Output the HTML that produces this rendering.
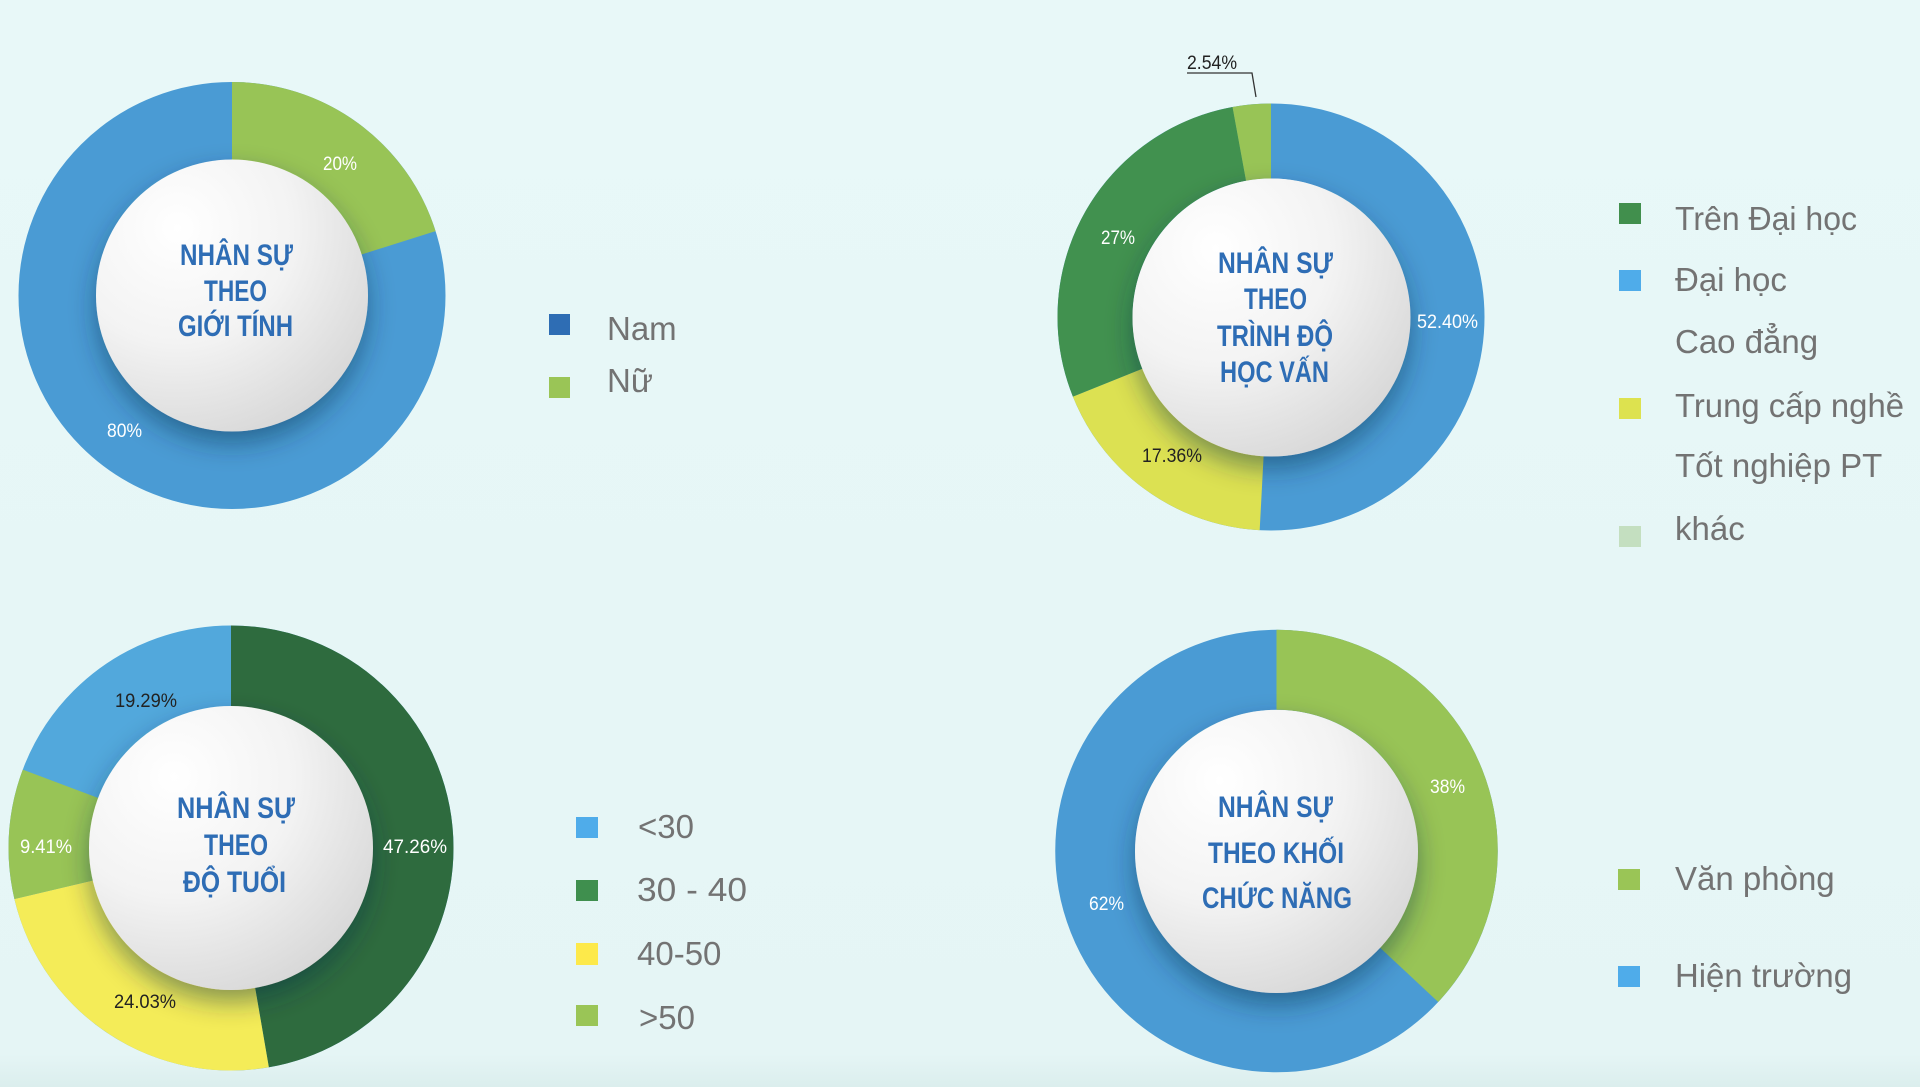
<!DOCTYPE html>
<html>
<head>
<meta charset="utf-8">
<style>
html,body{margin:0;padding:0;width:1920px;height:1087px;overflow:hidden;background:#e7f7f7;}
svg{display:block;}
.t{font-family:"Liberation Sans",sans-serif;font-weight:bold;fill:#2e6db5;font-size:30px;text-anchor:middle;}
.p{font-family:"Liberation Sans",sans-serif;font-size:19px;text-anchor:middle;}
.w{fill:#ffffff;}
.d{fill:#222222;}
.l{font-family:"Liberation Sans",sans-serif;font-size:33px;fill:#737373;}
</style>
</head>
<body>
<svg width="1920" height="1087" viewBox="0 0 1920 1087" xmlns="http://www.w3.org/2000/svg">
<defs>
<linearGradient id="bg" x1="0" y1="0" x2="0" y2="1">
<stop offset="0" stop-color="#e8f8f8"/>
<stop offset="0.97" stop-color="#e5f5f5"/>
<stop offset="1" stop-color="#dbeeed"/>
</linearGradient>
<radialGradient id="wg" cx="0.3" cy="0.25" r="0.85">
<stop offset="0" stop-color="#ffffff"/>
<stop offset="0.5" stop-color="#f3f3f3"/>
<stop offset="1" stop-color="#d6d6d6"/>
</radialGradient>
<filter id="sh" x="-30%" y="-30%" width="160%" height="170%">
<feDropShadow dx="0" dy="12" stdDeviation="13" flood-color="#0a2a45" flood-opacity="0.45"/>
</filter>
</defs>
<rect x="0" y="0" width="1920" height="1087" fill="url(#bg)"/>

<!-- Chart 1 -->
<g>
<circle cx="232" cy="295.5" r="174.5" fill="none" stroke="#4a9bd4" stroke-width="78"/>
<circle cx="232" cy="295.5" r="174.5" fill="none" stroke="#98c456" stroke-width="78" stroke-dasharray="220.5 3000" transform="rotate(-90 232 295.5)"/>
<circle cx="232" cy="295.5" r="136" fill="url(#wg)" filter="url(#sh)"/>
<text class="t" x="236.5" y="265" textLength="113" lengthAdjust="spacingAndGlyphs">NHÂN SỰ</text>
<text class="t" x="235.5" y="301" textLength="63" lengthAdjust="spacingAndGlyphs">THEO</text>
<text class="t" x="235.5" y="336" textLength="115" lengthAdjust="spacingAndGlyphs">GIỚI TÍNH</text>
<text class="p w" x="340" y="170" textLength="34" lengthAdjust="spacingAndGlyphs">20%</text>
<text class="p w" x="124.5" y="437" textLength="35" lengthAdjust="spacingAndGlyphs">80%</text>
</g>

<!-- Legend 1 -->
<rect x="549" y="314" width="21" height="21" fill="#2e6db4"/>
<text class="l" x="607" y="340">Nam</text>
<rect x="549" y="377" width="21" height="21" fill="#9ac556"/>
<text class="l" x="607" y="392">Nữ</text>

<!-- Chart 2 -->
<g>
<circle cx="1271" cy="317" r="176" fill="none" stroke="#4a9bd4" stroke-width="75"/>
<circle cx="1271" cy="317" r="176" fill="none" stroke="#dce152" stroke-width="75" stroke-dasharray="199.7 3000" stroke-dashoffset="-562.1" transform="rotate(-90 1271 317)"/>
<circle cx="1271" cy="317" r="176" fill="none" stroke="#41914f" stroke-width="75" stroke-dasharray="311.8 3000" stroke-dashoffset="-761.8" transform="rotate(-90 1271 317)"/>
<circle cx="1271" cy="317" r="176" fill="none" stroke="#98c456" stroke-width="75" stroke-dasharray="32.3 3000" stroke-dashoffset="-1073.5" transform="rotate(-90 1271 317)"/>
<circle cx="1271.5" cy="317.5" r="139" fill="url(#wg)" filter="url(#sh)"/>
<text class="t" x="1275.5" y="273" textLength="115" lengthAdjust="spacingAndGlyphs">NHÂN SỰ</text>
<text class="t" x="1275.5" y="309" textLength="63" lengthAdjust="spacingAndGlyphs">THEO</text>
<text class="t" x="1275" y="346" textLength="116" lengthAdjust="spacingAndGlyphs">TRÌNH ĐỘ</text>
<text class="t" x="1274.5" y="382" textLength="109" lengthAdjust="spacingAndGlyphs">HỌC VẤN</text>
<text class="p w" x="1447.5" y="328" textLength="61" lengthAdjust="spacingAndGlyphs">52.40%</text>
<text class="p w" x="1118" y="244" textLength="34" lengthAdjust="spacingAndGlyphs">27%</text>
<text class="p d" x="1172" y="462" textLength="60" lengthAdjust="spacingAndGlyphs">17.36%</text>
<text class="p d" x="1212" y="69" textLength="50" lengthAdjust="spacingAndGlyphs">2.54%</text>
<polyline points="1187,73 1252,73 1256,97" fill="none" stroke="#333" stroke-width="1.3"/>
</g>

<!-- Legend 2 -->
<rect x="1619" y="203" width="22" height="21" fill="#418f4d"/>
<text class="l" x="1675" y="230" textLength="182" lengthAdjust="spacingAndGlyphs">Trên Đại học</text>
<rect x="1619" y="270" width="22" height="21" fill="#4facea"/>
<text class="l" x="1675" y="291">Đại học</text>
<text class="l" x="1675" y="353">Cao đẳng</text>
<rect x="1619" y="398" width="22" height="21" fill="#dde24f"/>
<text class="l" x="1675" y="417" textLength="229" lengthAdjust="spacingAndGlyphs">Trung cấp nghề</text>
<text class="l" x="1675" y="477">Tốt nghiệp PT</text>
<rect x="1619" y="526" width="22" height="21" fill="#c4dfc0"/>
<text class="l" x="1675" y="540">khác</text>

<!-- Chart 3 -->
<g>
<circle cx="231" cy="848" r="182" fill="none" stroke="#52a8dc" stroke-width="81"/>
<circle cx="231" cy="848" r="182" fill="none" stroke="#2e6b3e" stroke-width="81" stroke-dasharray="540.4 3000" transform="rotate(-90 231 848)"/>
<circle cx="231" cy="848" r="182" fill="none" stroke="#f4ec58" stroke-width="81" stroke-dasharray="274.8 3000" stroke-dashoffset="-540.4" transform="rotate(-90 231 848)"/>
<circle cx="231" cy="848" r="182" fill="none" stroke="#98c456" stroke-width="81" stroke-dasharray="107.6 3000" stroke-dashoffset="-815.2" transform="rotate(-90 231 848)"/>
<circle cx="231" cy="848" r="142" fill="url(#wg)" filter="url(#sh)"/>
<text class="t" x="236" y="818" textLength="118" lengthAdjust="spacingAndGlyphs">NHÂN SỰ</text>
<text class="t" x="236" y="855" textLength="64" lengthAdjust="spacingAndGlyphs">THEO</text>
<text class="t" x="234.5" y="892" textLength="103" lengthAdjust="spacingAndGlyphs">ĐỘ TUỔI</text>
<text class="p d" x="146" y="707" textLength="62" lengthAdjust="spacingAndGlyphs">19.29%</text>
<text class="p w" x="46" y="853" textLength="52" lengthAdjust="spacingAndGlyphs">9.41%</text>
<text class="p w" x="415" y="853" textLength="64" lengthAdjust="spacingAndGlyphs">47.26%</text>
<text class="p d" x="145" y="1008" textLength="62" lengthAdjust="spacingAndGlyphs">24.03%</text>
</g>

<!-- Legend 3 -->
<rect x="576" y="817" width="22" height="21" fill="#4facea"/>
<text class="l" x="638" y="838">&lt;30</text>
<rect x="576" y="880" width="22" height="21" fill="#3f8f4e"/>
<text class="l" x="637" y="901" textLength="110" lengthAdjust="spacingAndGlyphs">30 - 40</text>
<rect x="576" y="943" width="22" height="22" fill="#fde94a"/>
<text class="l" x="637" y="965">40-50</text>
<rect x="576" y="1005" width="22" height="21" fill="#9ac556"/>
<text class="l" x="639" y="1029">&gt;50</text>

<!-- Chart 4 -->
<g>
<circle cx="1276.5" cy="851" r="181.25" fill="none" stroke="#4a9bd4" stroke-width="80"/>
<circle cx="1276.5" cy="851" r="181.25" fill="none" stroke="#98c456" stroke-width="80" stroke-dasharray="420.7 3000" transform="rotate(-90 1276.5 851)"/>
<circle cx="1276.5" cy="851.5" r="141.5" fill="url(#wg)" filter="url(#sh)"/>
<text class="t" x="1275.5" y="817" textLength="115" lengthAdjust="spacingAndGlyphs">NHÂN SỰ</text>
<text class="t" x="1276" y="863" textLength="136" lengthAdjust="spacingAndGlyphs">THEO KHỐI</text>
<text class="t" x="1277" y="908" textLength="150" lengthAdjust="spacingAndGlyphs">CHỨC NĂNG</text>
<text class="p w" x="1447.5" y="793" textLength="35" lengthAdjust="spacingAndGlyphs">38%</text>
<text class="p w" x="1106.5" y="910" textLength="35" lengthAdjust="spacingAndGlyphs">62%</text>
</g>

<!-- Legend 4 -->
<rect x="1618" y="869" width="22" height="21" fill="#9ac556"/>
<text class="l" x="1675" y="890">Văn phòng</text>
<rect x="1618" y="966" width="22" height="21" fill="#4facea"/>
<text class="l" x="1675" y="987" textLength="177" lengthAdjust="spacingAndGlyphs">Hiện trường</text>
</svg>
</body>
</html>
